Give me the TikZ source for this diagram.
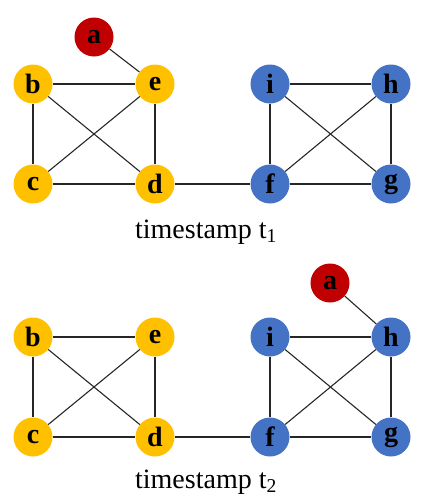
\documentclass[tikz,border=0pt]{standalone}
\usepackage{fontspec}
\setmainfont{Liberation Serif}
\definecolor{nyellow}{HTML}{FFC000}
\definecolor{nblue}{HTML}{4472C4}
\definecolor{nred}{HTML}{C00000}
\tikzset{
  vtx/.style={circle,minimum size=39pt,inner sep=0pt,font=\fontsize{28}{28}\selectfont\bfseries},
  ylw/.style={vtx,fill=nyellow},
  blu/.style={vtx,fill=nblue},
  rd/.style={vtx,fill=nred},
  edge/.style={draw=black!85,line width=1.1pt},
  caption/.style={anchor=base,font=\fontsize{28}{30}\selectfont}
}
\begin{document}
\begin{tikzpicture}[x=1pt,y=-1pt]
\useasboundingbox (0,0) rectangle (436,504);
% top
\node[rd]  (a1) at (94,37) {a};
\node[ylw] (b1) at (33,84) {b};
\node[ylw] (e1) at (155,84) {e};
\node[ylw] (c1) at (33,184) {c};
\node[ylw] (d1) at (155,184) {d};
\node[blu] (i1) at (270,84) {i};
\node[blu] (h1) at (391,84) {h};
\node[blu] (f1) at (270,184) {f};
\node[blu] (g1) at (391,184) {g};
\draw[edge] (a1) -- (e1);
\draw[edge] (b1) -- (e1);
\draw[edge] (b1) -- (c1);
\draw[edge] (b1) -- (d1);
\draw[edge] (c1) -- (e1);
\draw[edge] (c1) -- (d1);
\draw[edge] (e1) -- (d1);
\draw[edge] (d1) -- (f1);
\draw[edge] (i1) -- (h1);
\draw[edge] (i1) -- (f1);
\draw[edge] (i1) -- (g1);
\draw[edge] (h1) -- (f1);
\draw[edge] (h1) -- (g1);
\draw[edge] (f1) -- (g1);
\node[caption] (t1) at (206,238) {timestamp t\textsubscript{1}};
% bottom
\node[rd]  (a2) at (330,283) {a};
\node[ylw] (b2) at (33,337) {b};
\node[ylw] (e2) at (155,337) {e};
\node[ylw] (c2) at (33,437) {c};
\node[ylw] (d2) at (155,437) {d};
\node[blu] (i2) at (270,337) {i};
\node[blu] (h2) at (391,337) {h};
\node[blu] (f2) at (270,437) {f};
\node[blu] (g2) at (391,437) {g};
\draw[edge] (a2) -- (h2);
\draw[edge] (b2) -- (e2);
\draw[edge] (b2) -- (c2);
\draw[edge] (b2) -- (d2);
\draw[edge] (c2) -- (e2);
\draw[edge] (c2) -- (d2);
\draw[edge] (e2) -- (d2);
\draw[edge] (d2) -- (f2);
\draw[edge] (i2) -- (h2);
\draw[edge] (i2) -- (f2);
\draw[edge] (i2) -- (g2);
\draw[edge] (h2) -- (f2);
\draw[edge] (h2) -- (g2);
\draw[edge] (f2) -- (g2);
\node[caption] (t2) at (206,488) {timestamp t\textsubscript{2}};
\end{tikzpicture}
\end{document}
